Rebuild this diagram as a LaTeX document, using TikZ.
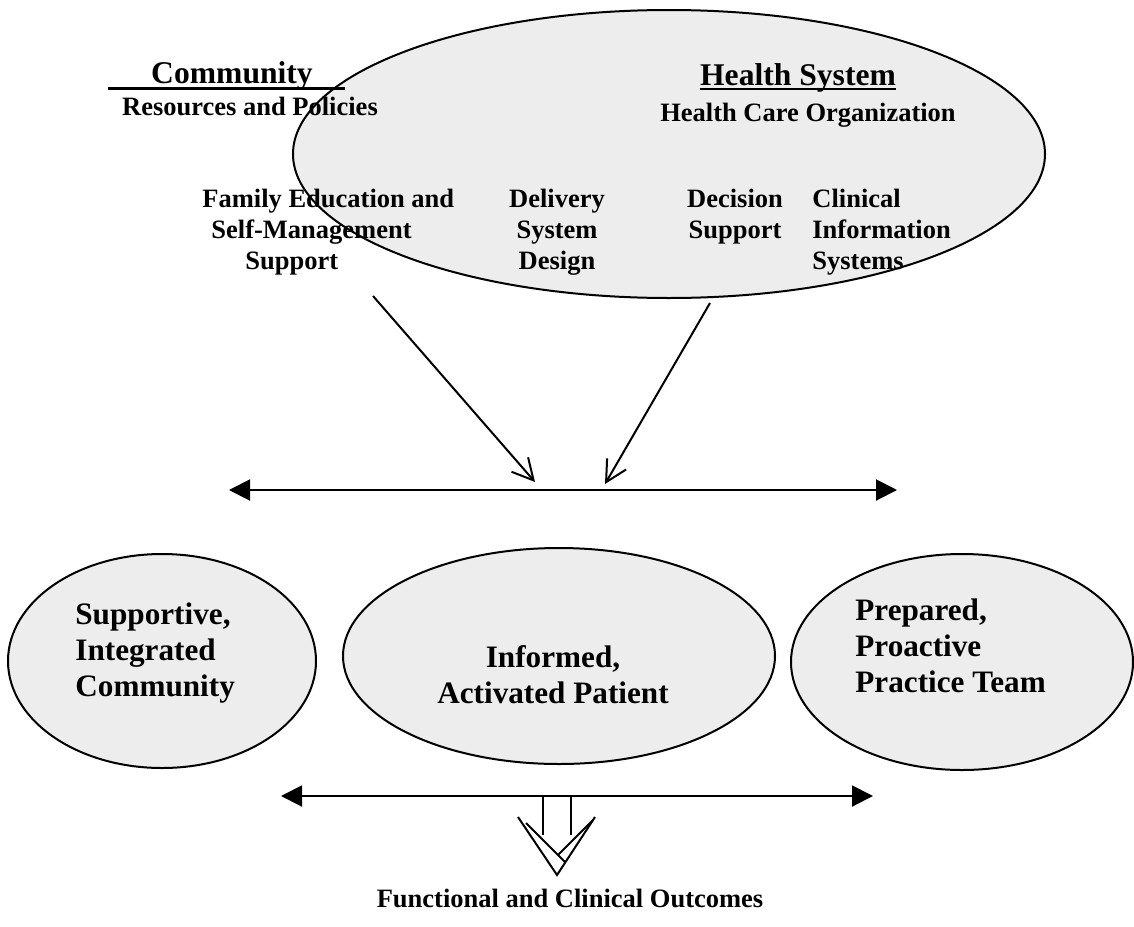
\documentclass[tikz,border=0pt]{standalone}
\usepackage{fontspec}
\setmainfont{Liberation Serif}
\usetikzlibrary{shapes.geometric,arrows.meta}

\begin{document}
\begin{tikzpicture}[x=0.5pt,y=-0.5pt,
  oval/.style={ellipse,draw,line width=1pt,fill=black!7,inner sep=0pt},
  small/.style={font=\fontsize{13.25}{15.5}\selectfont\bfseries,inner sep=0pt},
  head/.style={font=\fontsize{15.8}{18}\selectfont\bfseries,inner sep=0pt},
  big/.style={font=\fontsize{15.6}{18}\selectfont\bfseries,inner sep=0pt},
  rule/.style={line width=1pt},
  feeds/.style={line width=1pt,-{Straight Barb[length=10.5pt,width=11pt,line width=1pt]}},
  spans/.style={line width=1pt,{Triangle[length=10.5pt,width=10.5pt]}-{Triangle[length=10.5pt,width=10.5pt]}},
]
\useasboundingbox (0,0) rectangle (1134,926);

% the health system oval and the three outcome ovals
\node[oval,minimum width=376pt,minimum height=144pt] (hs) at (669,154) {};
\node[oval,minimum width=154pt,minimum height=107pt] (comm) at (162,661) {};
\node[oval,minimum width=216pt,minimum height=108pt] (pat) at (559,656) {};
\node[oval,minimum width=171pt,minimum height=108pt] (team) at (962,662) {};

% headings
\node[head,anchor=base] (cmT) at (232,83) {Community};
\draw[line width=1.5pt] (108,88) -- (345,88);
\node[small,anchor=base] (cmS) at (250,115) {Resources and Policies};
\node[head,anchor=base] (hsT) at (798,85) {Health System};
\draw[rule] ([yshift=-2pt]hsT.base west) -- ([yshift=-2pt]hsT.base east);
\node[small,anchor=base] (hsS) at (808,121) {Health Care Organization};

% system components (anchored on the baseline of their last line)
\node[small,anchor=base west,align=left] (fam) at (202,269)
  {Family Education and\\\hspace*{4.5pt}Self-Management\\\hspace*{21.5pt}Support};
\node[small,anchor=base,align=center] (del) at (557,269) {Delivery\\System\\Design};
\node[small,anchor=base,align=center] (dec) at (735,238) {Decision\\Support};
\node[small,anchor=base west,align=left] (cis) at (812,269) {Clinical\\Information\\Systems};

% outcome labels
\node[big,anchor=base west,align=left] (commT) at (75,696) {Supportive,\\Integrated\\Community};
\node[big,anchor=base,align=center] (patT) at (553,703) {Informed,\\Activated Patient};
\node[big,anchor=base west,align=left] (teamT) at (855,692) {Prepared,\\Proactive\\Practice Team};

% connector end points
\coordinate (fL) at (373,296);
\coordinate (fLt) at (535,482);
\coordinate (fR) at (710,303);
\coordinate (fRt) at (605,484);
\coordinate (iL) at (229,490);
\coordinate (iR) at (897,490);
\coordinate (oL) at (281,796);
\coordinate (oR) at (873,796);

\draw[feeds] (fL) -- (fLt);
\draw[feeds] (fR) -- (fRt);
\draw[spans] (iL) -- (iR);
\draw[spans] (oL) -- (oR);

% hollow block arrow down to the outcomes
\coordinate (sL) at (543,796);
\coordinate (sR) at (571,796);
\coordinate (sLb) at (543,835);
\coordinate (sRb) at (571,835);
\coordinate (wL) at (518,817);
\coordinate (wR) at (595,817);
\coordinate (tip) at (557,875);
\coordinate (iwL) at (526,823);
\coordinate (iwR) at (593,820);
\coordinate (iEnd) at (565,862);
\coordinate (iMid) at (558,855);
\draw[rule] (sL) -- (sLb) (sR) -- (sRb);
\draw[rule,line join=miter] (wL) -- (tip) -- (wR);
\draw[rule] (iwL) -- (iEnd) (iwR) -- (iMid);

\node[small,anchor=base] (out) at (570,907) {Functional and Clinical Outcomes};
\end{tikzpicture}
\end{document}
